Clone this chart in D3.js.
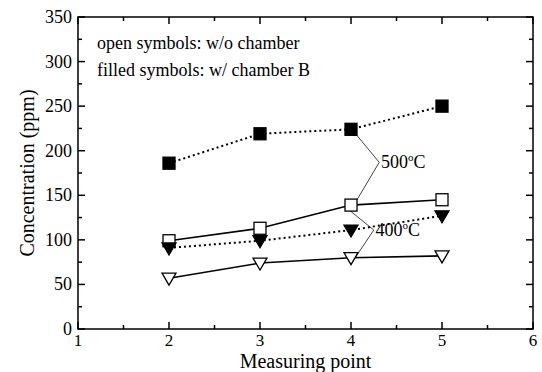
<!DOCTYPE html>
<html>
<head>
<meta charset="utf-8">
<script src="https://cdn.jsdelivr.net/npm/d3@7"></script>
<style>
    body { margin: 0; background: #fff; }
    svg text { font-family: "Liberation Serif", "Times New Roman", serif; fill: #000; }
</style>
</head>
<body>
<svg id="chart" width="542" height="372"></svg>
<script>
"use strict";

// measuring points on the x axis
var points = [2, 3, 4, 5];
// concentrations (ppm)
var filled500 = [186, 219, 224, 250];  // w/ chamber B, 500 C
var open500 = [99, 113, 139, 145];     // w/o chamber, 500 C
var filled400 = [91, 99, 111, 127];    // w/ chamber B, 400 C
var open400 = [57, 74, 80, 82];        // w/o chamber, 400 C
var xTicks = [1, 2, 3, 4, 5, 6];
var yTicks = [0, 50, 100, 150, 200, 250, 300, 350];

var svg = d3.select("#chart");
var m = {top: 17, right: 9, bottom: 43, left: 78};
var W = 542 - m.left - m.right, H = 372 - m.top - m.bottom;

var x = d3.scaleLinear().domain([1, 6]).range([0, W]);
var y = d3.scaleLinear().domain([0, 350]).range([H, 0]);

var g = svg.append("g").attr("transform", "translate(" + m.left + "," + m.top + ")");

// frame
g.append("rect").attr("width", W).attr("height", H)
    .attr("fill", "none").attr("stroke", "#000").attr("stroke-width", 1.5);

// inward ticks on all four sides
var xMinor = d3.range(1, 6.01, 0.5), yMinor = d3.range(0, 350.1, 25);
xMinor.forEach(function (v) {
    var len = (v % 1 === 0) ? 7 : 4;
    g.append("line").attr("x1", x(v)).attr("x2", x(v)).attr("y1", H).attr("y2", H - len)
        .attr("stroke", "#000").attr("stroke-width", 1.5);
    g.append("line").attr("x1", x(v)).attr("x2", x(v)).attr("y1", 0).attr("y2", len)
        .attr("stroke", "#000").attr("stroke-width", 1.5);
});
yMinor.forEach(function (v) {
    var len = (v % 50 === 0) ? 7 : 4;
    g.append("line").attr("y1", y(v)).attr("y2", y(v)).attr("x1", 0).attr("x2", len)
        .attr("stroke", "#000").attr("stroke-width", 1.5);
    g.append("line").attr("y1", y(v)).attr("y2", y(v)).attr("x1", W).attr("x2", W - len)
        .attr("stroke", "#000").attr("stroke-width", 1.5);
});

// tick labels
g.selectAll(".xl").data(xTicks).enter().append("text")
    .attr("x", function (d) { return x(d); }).attr("y", H + 17)
    .attr("text-anchor", "middle").style("font-size", "17px").text(function (d) { return d; });
g.selectAll(".yl").data(yTicks).enter().append("text")
    .attr("x", -6).attr("y", function (d) { return y(d) + 6; })
    .attr("text-anchor", "end").style("font-size", "18px").text(function (d) { return d; });

// axis titles
svg.append("text").attr("x", m.left + x(3.5)).attr("y", 368)
    .attr("text-anchor", "middle").style("font-size", "20px").text("Measuring point");
svg.append("text").attr("transform", "translate(34," + (m.top + H / 2) + ") rotate(-90)")
    .attr("text-anchor", "middle").style("font-size", "20px").text("Concentration (ppm)");

// notes
g.append("text").attr("x", 19).attr("y", 32).style("font-size", "18px")
    .text("open symbols: w/o chamber");
g.append("text").attr("x", 19).attr("y", 59).style("font-size", "18px")
    .text("filled symbols: w/ chamber B");

// leader lines for temperature labels
var lead = d3.line().x(function (d) { return x(d[0]); }).y(function (d) { return y(d[1]); });
g.append("path").datum([[4.05, filled500[2] - 5], [4.31, 187], [4.02, open500[2] - 2]])
    .attr("d", lead).attr("fill", "none").attr("stroke", "#444").attr("stroke-width", 1);
g.append("path").datum([[3.95, open500[2] - 3], [4.25, 111], [4.02, open400[2] - 4]])
    .attr("d", lead).attr("fill", "none").attr("stroke", "#444").attr("stroke-width", 1);
g.append("text").attr("x", x(4.33)).attr("y", y(187) + 6).style("font-size", "18px")
    .html("500<tspan dy='-7' font-size='11'>o</tspan><tspan dy='7'>C</tspan>");
g.append("text").attr("x", x(4.27)).attr("y", y(111) + 6).style("font-size", "18px")
    .html("400<tspan dy='-7' font-size='11'>o</tspan><tspan dy='7'>C</tspan>");

// series
var series = [
    {vals: filled500, dash: "2,3", sym: "square", fill: "#000"},
    {vals: open500, dash: null, sym: "square", fill: "#fff"},
    {vals: filled400, dash: "2,3", sym: "tri", fill: "#000"},
    {vals: open400, dash: null, sym: "tri", fill: "#fff"}
];
var line = d3.line().x(function (d, i) { return x(points[i]); }).y(function (d) { return y(d); });

series.forEach(function (s) {
    g.append("path").datum(s.vals).attr("d", line).attr("fill", "none")
        .attr("stroke", "#000").attr("stroke-width", s.dash ? 2 : 1.6)
        .attr("stroke-dasharray", s.dash);
});
series.forEach(function (s) {
    s.vals.forEach(function (v, i) {
        var cx = x(points[i]), cy = y(v);
        if (s.sym === "square") {
            g.append("rect").attr("x", cx - 6).attr("y", cy - 6).attr("width", 12).attr("height", 12)
                .attr("fill", s.fill).attr("stroke", "#000").attr("stroke-width", 1.3);
        } else {
            g.append("path")
                .attr("d", "M" + (cx - 7) + "," + (cy - 5) + "L" + (cx + 7) + "," + (cy - 5) +
                    "L" + cx + "," + (cy + 7) + "Z")
                .attr("fill", s.fill).attr("stroke", "#000").attr("stroke-width", 1.3);
        }
    });
});
</script>
</body>
</html>
